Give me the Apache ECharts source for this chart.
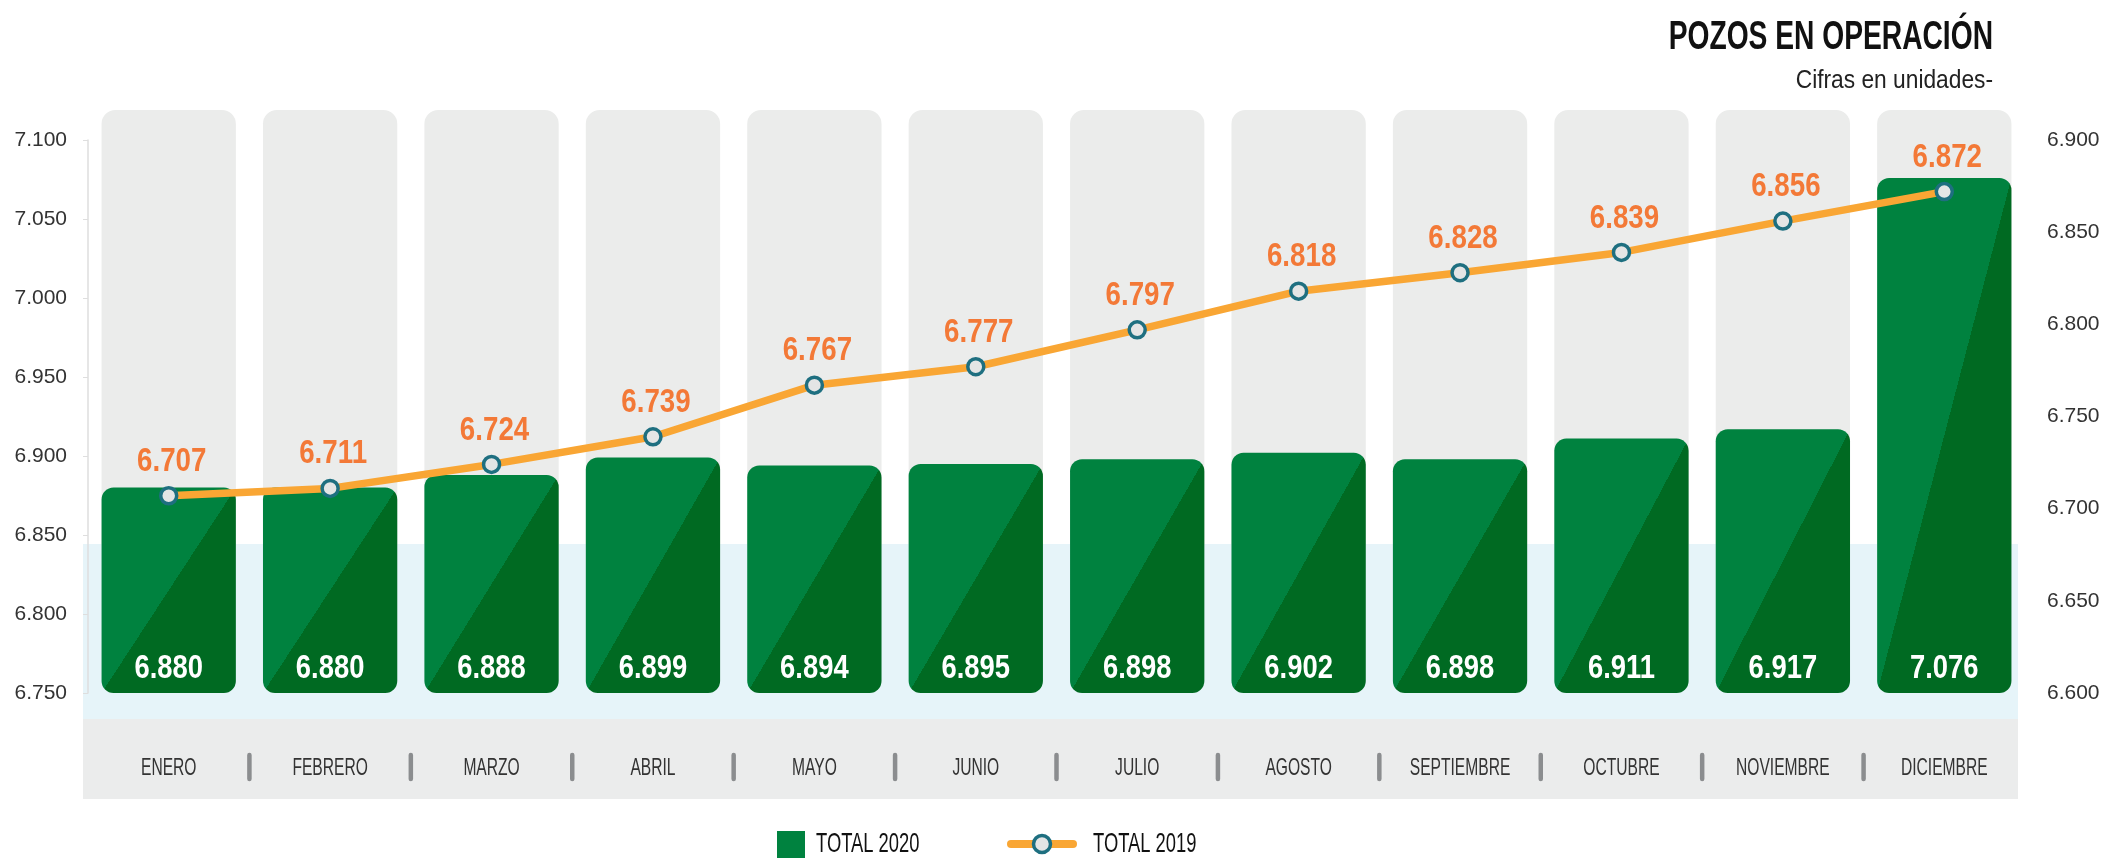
<!DOCTYPE html>
<html>
<head>
<meta charset="utf-8">
<script src="https://cdn.jsdelivr.net/npm/echarts@6/dist/echarts.min.js"></script>
<style>
  html, body { margin: 0; padding: 0; background: #fff; }
  #chart { width: 2107px; height: 858px; }
</style>
</head>
<body>
<div id="chart"></div>
<script>
var months = ['ENERO', 'FEBRERO', 'MARZO', 'ABRIL', 'MAYO', 'JUNIO', 'JULIO',
  'AGOSTO', 'SEPTIEMBRE', 'OCTUBRE', 'NOVIEMBRE', 'DICIEMBRE'];
var total2020 = [6880, 6880, 6888, 6899, 6894, 6895, 6898, 6902, 6898, 6911, 6917, 7076];
var total2019 = [6707, 6711, 6724, 6739, 6767, 6777, 6797, 6818, 6828, 6839, 6856, 6872];
var leftTicks = [6750, 6800, 6850, 6900, 6950, 7000, 7050, 7100];
var rightTicks = [6600, 6650, 6700, 6750, 6800, 6850, 6900];

var FONT = '"Liberation Sans", Arial, Helvetica, sans-serif';
var LIGHT_GREEN = '#00823f';
var DARK_GREEN = '#006a22';
var LINE_COLOR = '#f9a634';
var LABEL_ORANGE = '#f37937';
var DOT_FILL = '#e4e5e5';
var DOT_BORDER = '#1e6f80';

// 6880 -> "6.880"
function fmt(v) {
  var s = String(Math.round(v));
  return s.replace(/\B(?=(\d{3})+(?!\d))/g, '.');
}

// the original uses a condensed face; squeeze a regular one horizontally
function narrowText(text, x, y, size, weight, color, squeeze, align) {
  return {
    type: 'text',
    x: x, y: y,
    scaleX: squeeze,
    style: {
      text: text, x: 0, y: 0,
      fontFamily: FONT, fontSize: size, fontWeight: weight,
      fill: color, align: align || 'center', verticalAlign: 'middle'
    }
  };
}

var chart = echarts.init(document.getElementById('chart'));

// grey rounded column behind each month, month name and separators in the bottom band
function renderColumn(params, api) {
  var idx = api.value(0);
  var top = api.coord([idx, 7119]);
  var bot = api.coord([idx, 6844]);
  var base = api.coord([idx, leftTicks[0]]);
  var band = api.size([1, 0])[0];
  var w = band * 0.832;
  var children = [{
    type: 'rect',
    shape: { x: top[0] - w / 2, y: top[1], width: w, height: bot[1] - top[1], r: [14, 14, 0, 0] },
    style: { fill: '#ebeceb' }
  }, narrowText(months[idx], top[0], base[1] + 75, 24, 'normal', '#333', 0.65)];
  if (idx > 0) {
    var sx = top[0] - band / 2;
    children.push({
      type: 'line',
      shape: { x1: sx, y1: base[1] + 62, x2: sx, y2: base[1] + 86 },
      style: { stroke: '#8b8d8f', lineWidth: 4.5, lineCap: 'round' }
    });
  }
  return { type: 'group', children: children };
}

// green bar with the diagonal two-tone shading and the value inside
function renderBar(params, api) {
  var idx = api.value(0);
  var val = api.value(1);
  var top = api.coord([idx, val]);
  var base = api.coord([idx, leftTicks[0]]);
  var w = api.size([1, 0])[0] * 0.832;
  var h = base[1] - top[1];
  var x0 = top[0] - w / 2;
  var cx = top[0], cy = top[1] + h / 2;
  var len = Math.sqrt(w * w + h * h);
  var dx = h / len * 60, dy = w / len * 60;
  var grad = new echarts.graphic.LinearGradient(cx - dx, cy - dy, cx + dx, cy + dy, [
    { offset: 0, color: LIGHT_GREEN },
    { offset: 0.5, color: LIGHT_GREEN },
    { offset: 0.5, color: DARK_GREEN },
    { offset: 1, color: DARK_GREEN }
  ], true);
  return {
    type: 'group',
    children: [{
      type: 'rect',
      shape: { x: x0, y: top[1], width: w, height: h, r: 12 },
      style: { fill: grad }
    }, narrowText(fmt(val), cx, base[1] - 24, 33, 'bold', '#ffffff', 0.83)]
  };
}

// orange value above each point of the 2019 line
function renderLineLabel(params, api) {
  var idx = api.value(0);
  var val = api.value(1);
  var p = api.coord([idx, val]);
  return narrowText(fmt(val), p[0] + 3, p[1] - 34, 33, 'bold', LABEL_ORANGE, 0.84);
}

var option = {
  animation: false,
  backgroundColor: '#ffffff',
  graphic: [{
    type: 'rect', z: 0,
    shape: { x: 83, y: 544, width: 1935, height: 175 },
    style: { fill: '#e6f4f9' }
  }, {
    type: 'rect', z: 0,
    shape: { x: 83, y: 719, width: 1935, height: 80 },
    style: { fill: '#ebecec' }
  },
  // title
  narrowText('POZOS EN OPERACIÓN', 1993, 38, 40, 'bold', '#111', 0.705, 'right'),
  narrowText('Cifras en unidades-', 1993, 81, 25, 'normal', '#222', 0.91, 'right'),
  // legend
  {
    type: 'rect',
    shape: { x: 777, y: 831, width: 28, height: 27 },
    style: { fill: LIGHT_GREEN }
  },
  narrowText('TOTAL 2020', 816, 844, 28, 'normal', '#111', 0.656, 'left'),
  {
    type: 'line',
    shape: { x1: 1011, y1: 844, x2: 1073, y2: 844 },
    style: { stroke: LINE_COLOR, lineWidth: 8, lineCap: 'round' }
  }, {
    type: 'circle',
    shape: { cx: 1042, cy: 844, r: 8.5 },
    style: { fill: DOT_FILL, stroke: DOT_BORDER, lineWidth: 3.5 }
  },
  narrowText('TOTAL 2019', 1093, 844, 28, 'normal', '#111', 0.656, 'left')
  ].map(function (g) { g.z = g.z === undefined ? 1 : g.z; return g; }),
  grid: { left: 88, right: 82, top: 140, bottom: 165 },
  xAxis: {
    type: 'category',
    data: months,
    axisLine: { show: false },
    axisTick: { show: false },
    axisLabel: { show: false }
  },
  yAxis: [{
    type: 'value',
    min: leftTicks[0], max: leftTicks[leftTicks.length - 1], interval: 50,
    axisLine: { show: true, lineStyle: { color: '#dedede', width: 1.5 } },
    axisTick: { show: true, length: 5, lineStyle: { color: '#dedede' } },
    splitLine: { show: false },
    axisLabel: { margin: 21, fontFamily: FONT, fontSize: 21, color: '#333', formatter: fmt }
  }, {
    type: 'value',
    min: rightTicks[0], max: rightTicks[rightTicks.length - 1], interval: 50,
    axisLine: { show: false },
    axisTick: { show: false },
    splitLine: { show: false },
    axisLabel: { margin: 22, fontFamily: FONT, fontSize: 21, color: '#333', formatter: fmt }
  }],
  series: [{
    name: 'columns',
    type: 'custom',
    z: 1,
    silent: true,
    renderItem: renderColumn,
    encode: { x: 0, y: 1 },
    data: months.map(function (m, i) { return [i, leftTicks[leftTicks.length - 1]]; })
  }, {
    name: 'TOTAL 2020',
    type: 'custom',
    z: 2,
    renderItem: renderBar,
    itemStyle: { color: LIGHT_GREEN },
    encode: { x: 0, y: 1 },
    data: total2020.map(function (v, i) { return [i, v]; })
  }, {
    name: 'TOTAL 2019',
    type: 'line',
    yAxisIndex: 1,
    z: 5,
    data: total2019,
    symbol: 'circle',
    symbolSize: 16,
    lineStyle: { color: LINE_COLOR, width: 7.5 },
    itemStyle: { color: DOT_FILL, borderColor: DOT_BORDER, borderWidth: 3.5 }
  }, {
    name: 'TOTAL 2019 labels',
    type: 'custom',
    yAxisIndex: 1,
    z: 6,
    silent: true,
    renderItem: renderLineLabel,
    encode: { x: 0, y: 1 },
    data: total2019.map(function (v, i) { return [i, v]; })
  }]
};

chart.setOption(option);
</script>
</body>
</html>
